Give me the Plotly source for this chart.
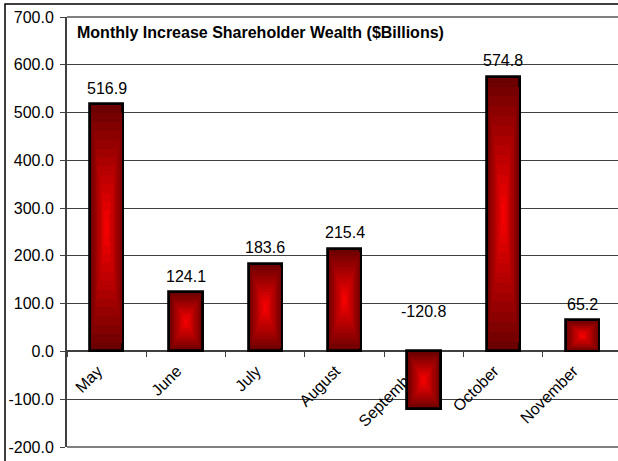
import plotly.graph_objects as go

# ---- data ----
months = ["May", "June", "July", "August", "September", "October", "November"]
wealth_increase = [516.9, 124.1, 183.6, 215.4, -120.8, 574.8, 65.2]
y_tick_values = [-200, -100, 0, 100, 200, 300, 400, 500, 600, 700]
y_tick_labels = [f"{v:.1f}" for v in y_tick_values]
chart_title = "Monthly Increase Shareholder Wealth ($Billions)"

# ---- style ----
FONT = "Liberation Sans, Arial, sans-serif"
FS = 16
Y_MIN, Y_MAX = -200, 700
BAR_W = 0.42
N_LAYERS = 14
DARK = (108, 0, 0)
BRIGHT = (255, 0, 0)

fig = go.Figure()

# rectangular "from centre" gradient made of nested overlaid bars
for k in range(N_LAYERS):
    f = k / N_LAYERS            # 0 (outer) -> near 1 (centre)
    shrink = f / 2
    col = tuple(int(round(DARK[i] + (BRIGHT[i] - DARK[i]) * f)) for i in range(3))
    fig.add_trace(go.Bar(
        x=months,
        y=[v * (1 - 2 * shrink) for v in wealth_increase],
        base=[v * shrink for v in wealth_increase],
        width=BAR_W * (1 - f),
        marker=dict(color=f"rgb{col}",
                    line=dict(color="black", width=2.8 if k == 0 else 0)),
        hoverinfo="skip" if k else "x+y",
        showlegend=False,
    ))

# value labels
for m, v in zip(months, wealth_increase):
    fig.add_annotation(
        x=m, y=max(v, 0), xref="x", yref="y",
        text=f"{v:.1f}", showarrow=False,
        yanchor="middle", yshift=16 if v >= 0 else 40,
        font=dict(family=FONT, size=FS, color="black"),
    )

# title inside plot area
fig.add_annotation(
    xref="paper", yref="paper", x=0.015, y=0.963,
    xanchor="left", yanchor="middle", showarrow=False,
    text=f"<b>{chart_title}</b>",
    font=dict(family=FONT, size=FS, color="black"),
)

zero_pos = (0 - Y_MIN) / (Y_MAX - Y_MIN)

fig.update_layout(
    width=618, height=461,
    margin=dict(l=67, r=0, t=17, b=14, autoexpand=False),
    paper_bgcolor="white", plot_bgcolor="white",
    barmode="overlay",
    bargap=0,
    font=dict(family=FONT, size=FS, color="black"),
    xaxis=dict(
        type="category",
        categoryorder="array", categoryarray=months,
        range=[-0.5, -0.5 + 551 / 79.3],
        anchor="free", position=zero_pos,
        showline=True, linecolor="#404040", linewidth=2,
        ticks="outside", tickson="boundaries", ticklen=5,
        tickcolor="#404040", tickwidth=1,
        tickangle=-45,
        ticklabelshift=-9, ticklabelstandoff=3,
        showgrid=False, zeroline=False,
        layer="below traces",
        automargin=False,
        tickfont=dict(family=FONT, size=FS, color="black"),
    ),
    yaxis=dict(
        range=[Y_MIN, Y_MAX],
        tickvals=y_tick_values, ticktext=y_tick_labels,
        showgrid=True, gridcolor="#404040", gridwidth=1,
        zeroline=False,
        showline=True, linecolor="#404040", linewidth=2,
        ticks="outside", ticklen=5, tickcolor="#404040",
        ticklabelstandoff=3,
        automargin=False,
        tickfont=dict(family=FONT, size=FS, color="black"),
    ),
    shapes=[
        # plot-area top and bottom borders
        dict(type="line", xref="x domain", yref="y domain",
             x0=0, x1=1, y0=0, y1=0, line=dict(color="#808080", width=2)),
        dict(type="line", xref="x domain", yref="y domain",
             x0=0, x1=1, y0=1, y1=1, line=dict(color="#808080", width=2)),
        # outer chart border
        dict(type="rect", xref="paper", yref="paper",
             x0=(5 - 67) / 551, x1=1.2, y0=-0.2, y1=(447 - 4) / 430,
             line=dict(color="black", width=1.5), layer="below"),
    ],
)

fig.write_html(
    "out.html",
    config={"displayModeBar": False},
    post_script="document.body.style.margin='0';document.body.style.overflow='hidden';",
)
